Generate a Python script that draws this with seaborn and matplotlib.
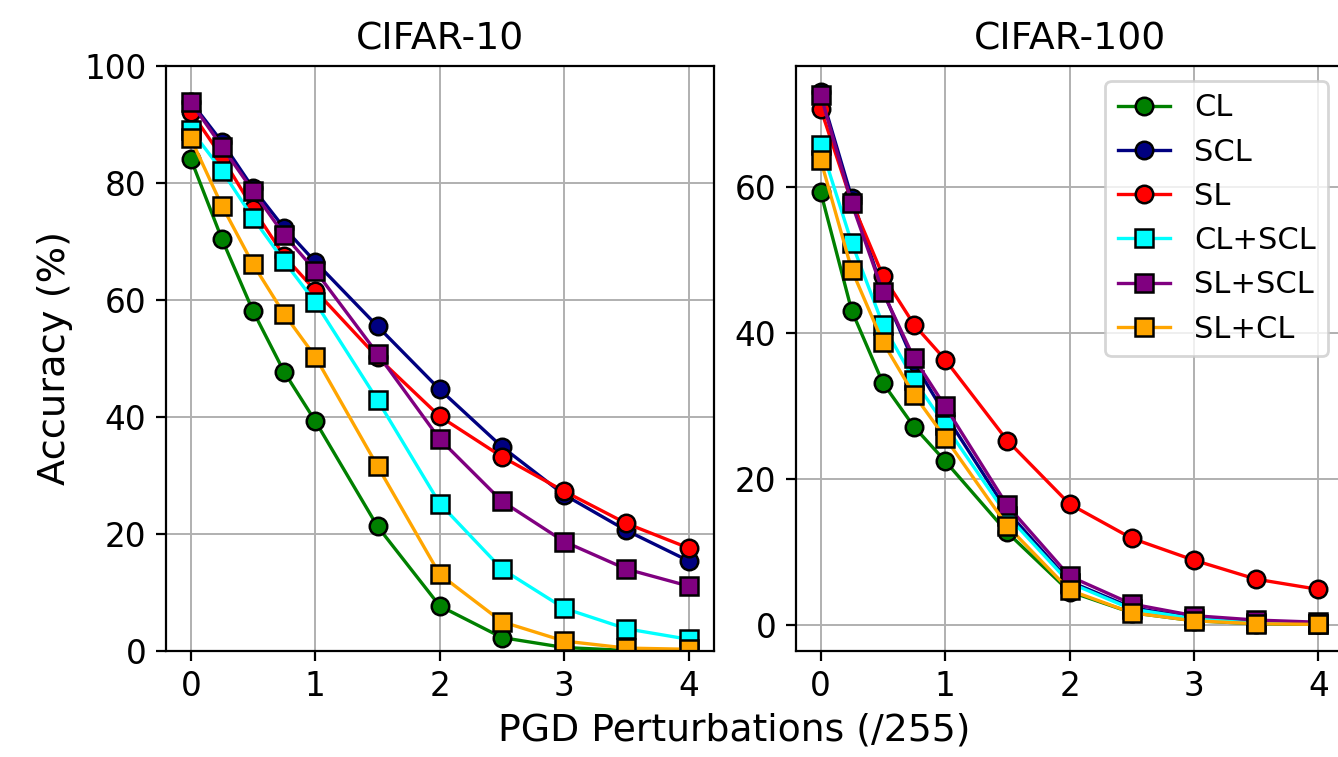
import numpy as np
import pandas as pd
import matplotlib
matplotlib.use("Agg")
import matplotlib.pyplot as plt
import seaborn as sns

# perturbation budgets (x axis)
eps = [0, 0.25, 0.5, 0.75, 1, 1.5, 2, 2.5, 3, 3.5, 4]

methods = ["CL", "SCL", "SL", "CL+SCL", "SL+SCL", "SL+CL"]
colors = ["green", "navy", "red", "cyan", "purple", "orange"]
markers = ["o", "o", "o", "s", "s", "s"]

# CIFAR-10 accuracies (%)
c10_cl = [84.1, 70.4, 58.1, 47.7, 39.3, 21.3, 7.7, 2.3, 0.6, 0.1, 0.0]
c10_scl = [93.9, 87.0, 79.1, 72.3, 66.5, 55.5, 44.7, 34.9, 26.7, 20.6, 15.4]
c10_sl = [92.2, 84.4, 75.6, 67.5, 61.6, 50.2, 40.1, 33.2, 27.3, 21.8, 17.6]
c10_cl_scl = [89.1, 82.1, 74.0, 66.6, 59.6, 42.9, 25.2, 14.0, 7.3, 3.8, 2.0]
c10_sl_scl = [93.8, 86.2, 78.6, 71.1, 65.0, 50.8, 36.2, 25.6, 18.7, 14.0, 11.1]
c10_sl_cl = [87.6, 76.1, 66.1, 57.6, 50.3, 31.6, 13.1, 5.0, 1.7, 0.5, 0.3]

# CIFAR-100 accuracies (%)
c100_cl = [59.4, 43.1, 33.2, 27.2, 22.5, 12.7, 4.6, 1.7, 0.6, 0.2, 0.1]
c100_scl = [73.0, 58.6, 45.8, 36.0, 28.9, 15.6, 6.0, 2.4, 1.0, 0.4, 0.2]
c100_sl = [70.8, 58.0, 47.9, 41.2, 36.4, 25.3, 16.6, 11.9, 8.9, 6.3, 4.9]
c100_cl_scl = [65.8, 52.4, 41.2, 33.6, 27.4, 15.0, 5.8, 2.2, 0.9, 0.3, 0.2]
c100_sl_scl = [72.7, 57.8, 45.7, 36.6, 30.0, 16.4, 6.7, 2.9, 1.3, 0.7, 0.4]
c100_sl_cl = [63.8, 48.7, 38.8, 31.6, 25.7, 13.6, 4.8, 1.7, 0.6, 0.2, 0.1]

c10 = [c10_cl, c10_scl, c10_sl, c10_cl_scl, c10_sl_scl, c10_sl_cl]
c100 = [c100_cl, c100_scl, c100_sl, c100_cl_scl, c100_sl_scl, c100_sl_cl]

plt.rcParams["font.family"] = ["DejaVu Sans"]
plt.rcParams["font.size"] = 12

fig, axes = plt.subplots(1, 2, figsize=(6.69, 3.785), dpi=200)
fig.subplots_adjust(left=0.124, right=1.004, top=0.913, bottom=0.14, wspace=0.15)

for ax, data, title in zip(axes, [c10, c100], ["CIFAR-10", "CIFAR-100"]):
    for name, vals, col, mk in zip(methods, data, colors, markers):
        df = pd.DataFrame({"eps": eps, "acc": vals})
        sns.lineplot(data=df, x="eps", y="acc", ax=ax, color=col, marker=mk,
                     markersize=6.3, markeredgecolor="black", markeredgewidth=0.9,
                     linewidth=1.2, label=name, legend=False)
    ax.set_title(title, fontsize=13.6)
    ax.set_xlabel("")
    ax.set_ylabel("")
    ax.set_xticks([0, 1, 2, 3, 4])
    ax.grid(True, color="#b0b0b0", linewidth=0.7)
    ax.tick_params(labelsize=11.8)

axes[0].set_ylim(0, 100)
axes[0].set_ylabel("Accuracy (%)", fontsize=13.8)
axes[1].set_yticks([0, 20, 40, 60])
axes[1].legend(loc="upper right", fontsize=11, framealpha=0.8, handlelength=1.7)

fig.text(0.549, 0.035, "PGD Perturbations (/255)", ha="center", va="center", fontsize=13.6)

fig.savefig("out.png", dpi=200)
